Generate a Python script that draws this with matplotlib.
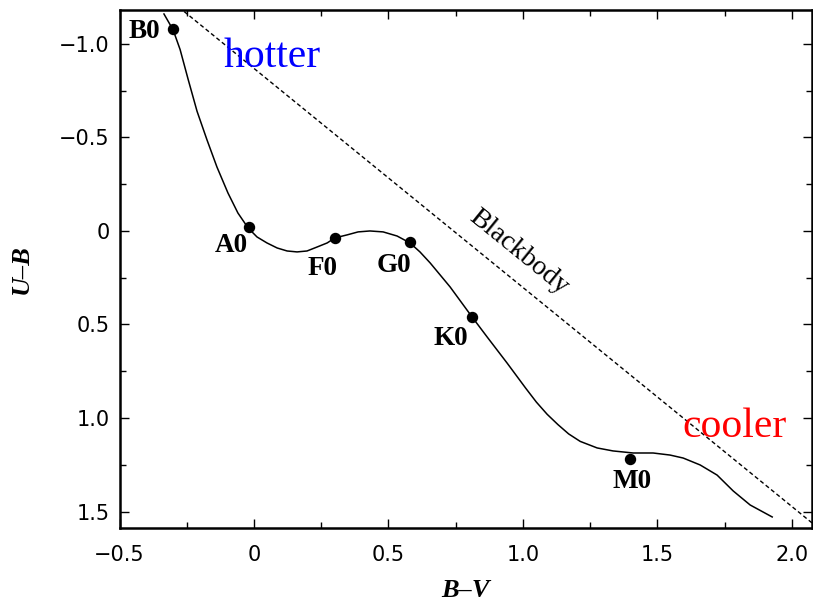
import numpy as np
import matplotlib.pyplot as plt
from matplotlib.ticker import MultipleLocator, FixedLocator, FixedFormatter

# main-sequence locus in the (B-V, U-B) plane
locus_bv = [-0.335, -0.301, -0.275, -0.245, -0.212, -0.175, -0.138, -0.097, -0.060, -0.022,
            0.011, 0.048, 0.086, 0.123, 0.160, 0.197, 0.234, 0.272, 0.301, 0.346,
            0.387, 0.431, 0.480, 0.532, 0.580, 0.617, 0.655, 0.729, 0.811, 0.867,
            0.941, 1.010, 1.050, 1.090, 1.130, 1.170, 1.213, 1.276, 1.335, 1.410, 1.484,
            1.547, 1.596, 1.659, 1.722, 1.782, 1.845, 1.927]
locus_ub = [-1.160, -1.075, -0.970, -0.810, -0.640, -0.487, -0.342, -0.203, -0.096, -0.016,
            0.032, 0.064, 0.091, 0.107, 0.112, 0.107, 0.086, 0.064, 0.037, 0.021,
            0.005, 0.000, 0.005, 0.027, 0.064, 0.112, 0.171, 0.299, 0.460, 0.567,
            0.706, 0.840, 0.915, 0.980, 1.035, 1.085, 1.125, 1.160, 1.176, 1.187, 1.187,
            1.198, 1.214, 1.251, 1.305, 1.390, 1.465, 1.529]

# spectral types marked on the locus
types = ["B0", "A0", "F0", "G0", "K0", "M0"]
types_bv = [-0.30, -0.02, 0.30, 0.58, 0.81, 1.40]
types_ub = [-1.08, -0.02, 0.04, 0.06, 0.46, 1.22]

# blackbody line
bb_bv = [-0.30, 2.10]
bb_ub = [-1.22, 1.59]

xticks = [-0.5, 0, 0.5, 1.0, 1.5, 2.0]
xticklabels = ["\u22120.5", "0", "0.5", "1.0", "1.5", "2.0"]
yticks = [-1.0, -0.5, 0, 0.5, 1.0, 1.5]
yticklabels = ["\u22121.0", "\u22120.5", "0", "0.5", "1.0", "1.5"]

# label offsets in pixels from each dot
label_offsets = {"B0": (-29, -3), "A0": (-17, -18), "F0": (-12, -30),
                 "G0": (-16, -23), "K0": (-21, -21), "M0": (2, -22)}

fig = plt.figure(figsize=(8.13, 6.02), dpi=100)
ax = fig.add_axes([119.6 / 813, 74 / 602, (812 - 119.6) / 813, (592.5 - 74) / 602])

ax.plot(bb_bv, bb_ub, color="black", lw=1.0, dashes=(3, 2))
ax.plot(locus_bv, locus_ub, color="black", lw=1.1, solid_joinstyle="round")
ax.plot(types_bv, types_ub, "o", color="black", markersize=7.2)

for name, bv, ub in zip(types, types_bv, types_ub):
    ax.annotate(name, (bv, ub), xytext=label_offsets[name], textcoords="offset pixels",
                ha="center", va="center", family="Liberation Serif",
                fontweight="bold", fontsize=19.5)

ax.text(0.985, 0.112, "Blackbody", rotation=-39, rotation_mode="anchor",
        ha="center", va="center", family="Liberation Serif", fontsize=20)
ax.text(0.067, -0.877, "hotter", color="blue", ha="center", va="baseline",
        family="Liberation Serif", fontsize=30)
ax.text(1.787, 1.10, "cooler", color="red", ha="center", va="baseline",
        family="Liberation Serif", fontsize=30)

ax.set_xlim(-0.5, 2.075)
ax.set_ylim(1.588, -1.184)

ax.xaxis.set_major_locator(FixedLocator(xticks))
ax.xaxis.set_major_formatter(FixedFormatter(xticklabels))
ax.yaxis.set_major_locator(FixedLocator(yticks))
ax.yaxis.set_major_formatter(FixedFormatter(yticklabels))
ax.xaxis.set_minor_locator(MultipleLocator(0.25))
ax.yaxis.set_minor_locator(MultipleLocator(0.25))

ax.tick_params(which="both", direction="in", top=True, right=True, width=1.0)
ax.tick_params(which="major", length=6.5)
ax.tick_params(which="minor", length=4.3)
ax.tick_params(axis="x", which="major", pad=12, labelsize=15)
ax.tick_params(axis="y", which="major", pad=7, labelsize=15)
for sp in ax.spines.values():
    sp.set_linewidth(1.8)

ax.set_xlabel("B\u2013V", family="Liberation Serif", fontstyle="italic",
              fontweight="bold", fontsize=19, labelpad=10)
ax.set_ylabel("U\u2013B", family="Liberation Serif", fontstyle="italic",
              fontweight="bold", fontsize=19, labelpad=19)

fig.savefig("out.png", dpi=100)
